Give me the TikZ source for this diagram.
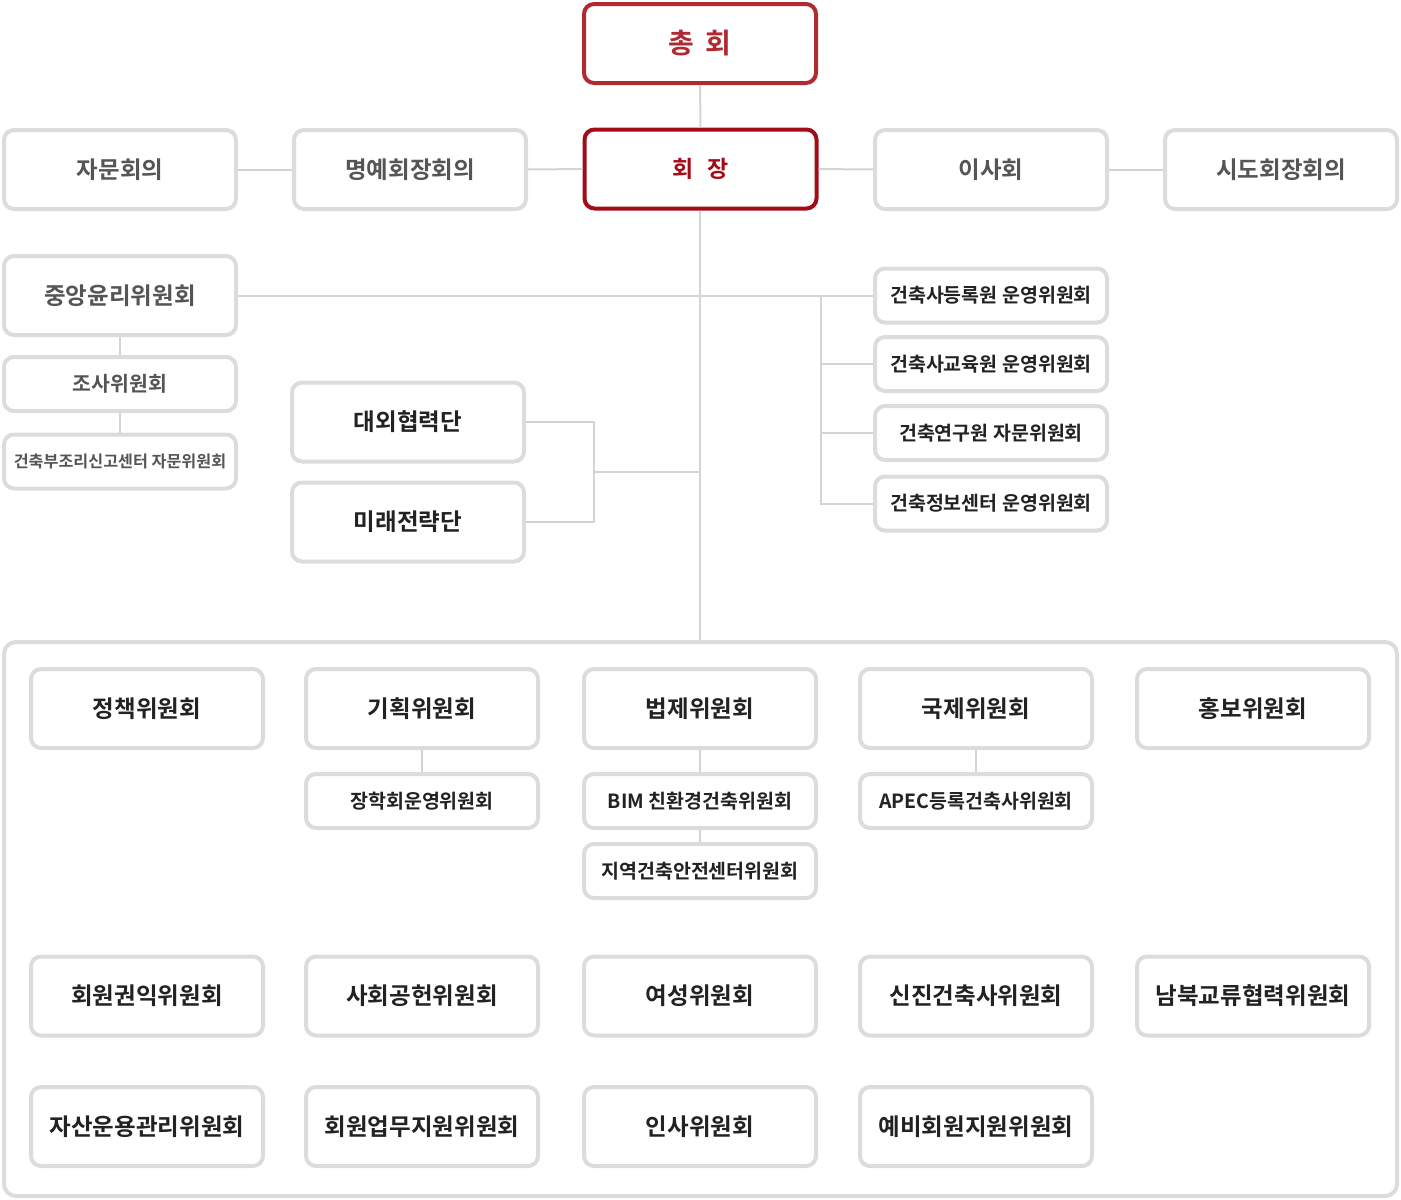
\documentclass[tikz,border=0pt]{standalone}
\usepackage{fontspec}
\usepackage{xcolor}
\usepackage{tikz}
\usetikzlibrary{positioning}
\newfontfamily\kr{Noto Sans CJK KR}[BoldFont={Noto Sans CJK KR Bold}]
\definecolor{boxgray}{HTML}{DCDCDC}
\definecolor{linegray}{HTML}{D4D4D4}
\definecolor{txtdark}{HTML}{222222}
\definecolor{txtgray}{HTML}{555555}
\definecolor{gmred}{HTML}{B02A31}
\definecolor{presred}{HTML}{A50B16}
\newcommand{\fs}[1]{\kr\bfseries\fontsize{#1}{#1}\selectfont}

\begin{document}
\begin{tikzpicture}[x=1pt,y=-1pt,
  box/.style={draw=boxgray,line width=4pt,rounded corners=10pt,fill=white,inner sep=0pt,
    minimum width=232pt,minimum height=79pt,text=txtdark,font=\fs{23.5}},
  sub/.style={box,minimum height=54pt,font=\fs{19.5}},
  head/.style={box,text=presred},
  link/.style={draw=linegray,line width=2pt}]

  \useasboundingbox (0,0) rectangle (1401,1200);

  % Top
  \node [head,draw=gmred,text=gmred,font=\fs{28}] at (700,43.5) (gm) {총\hspace{12pt}회};
  \node [head,draw=presred,font=\fs{23}] at (700.5,169) (pres) {회\hspace{14pt}장};
  \node [box,text=txtgray] at (120,169.5) (adv) {자문회의};
  \node [box,text=txtgray] at (410,169.5) (hon) {명예회장회의};
  \node [box,text=txtgray] at (991,169.5) (brd) {이사회};
  \node [box,text=txtgray] at (1281,169.5) (reg) {시도회장회의};

  % Left column
  \node [box,text=txtgray] at (120,295.5) (eth) {중앙윤리위원회};
  \node [sub,text=txtgray,font=\fs{20.5}] at (120,384) (inv) {조사위원회};
  \node [sub,text=txtgray,font=\fs{16.2}] at (120,461.5) (cor) {건축부조리신고센터 자문위원회};
  \node [box] at (408,422) (ext) {대외협력단};
  \node [box] at (408,522) (fut) {미래전략단};

  % Right column
  \node [sub] at (991,295.5) (r1) {건축사등록원 운영위원회};
  \node [sub] at (991,364) (r2) {건축사교육원 운영위원회};
  \node [sub] at (991,433) (r3) {건축연구원 자문위원회};
  \node [sub] at (991,503.5) (r4) {건축정보센터 운영위원회};

  % Committees
  \draw [draw=boxgray,line width=4pt,rounded corners=12pt] (4,642) rectangle (1397,1196);
  \coordinate (ctop) at (700,640);

  \node [box] at (147,708.5) (c1) {정책위원회};
  \node [box] at (422,708.5) (c2) {기획위원회};
  \node [box] at (700,708.5) (c3) {법제위원회};
  \node [box] at (976,708.5) (c4) {국제위원회};
  \node [box] at (1253,708.5) (c5) {홍보위원회};
  \node [sub] at (422,801) (c2a) {장학회운영위원회};
  \node [sub] at (700,801) (c3a) {BIM 친환경건축위원회};
  \node [sub] at (700,871) (c3b) {지역건축안전센터위원회};
  \node [sub] at (976,801) (c4a) {APEC등록건축사위원회};

  \node [box] at (147,996) (d1) {회원권익위원회};
  \node [box] at (422,996) (d2) {사회공헌위원회};
  \node [box] at (700,996) (d3) {여성위원회};
  \node [box] at (976,996) (d4) {신진건축사위원회};
  \node [box] at (1253,996) (d5) {남북교류협력위원회};

  \node [box] at (147,1126.5) (e1) {자산운용관리위원회};
  \node [box] at (422,1126.5) (e2) {회원업무지원위원회};
  \node [box] at (700,1126.5) (e3) {인사위원회};
  \node [box] at (976,1126.5) (e4) {예비회원지원위원회};

  % Links
  \path[link]
  (gm) edge (pres)
  (adv) edge (hon)
  (hon) edge (pres)
  (pres) edge (brd)
  (brd) edge (reg)
  (eth) edge (inv)
  (inv) edge (cor)
  (eth) edge (r1)
  (c2) edge (c2a)
  (c3) edge (c3a)
  (c3a) edge (c3b)
  (c4) edge (c4a);

  \draw[link] (pres.south -| ctop) -- (ctop);

  \coordinate (tb) at (594,472);
  \draw[link] (ext.east) -| (tb) |- (fut.east);
  \draw[link] (tb) -- (tb -| ctop);

  \coordinate (rb) at (821,295.5);
  \draw[link] (rb) |- (r4.west);
  \draw[link] (rb |- r2.west) -- (r2.west);
  \draw[link] (rb |- r3.west) -- (r3.west);

\end{tikzpicture}
\end{document}
